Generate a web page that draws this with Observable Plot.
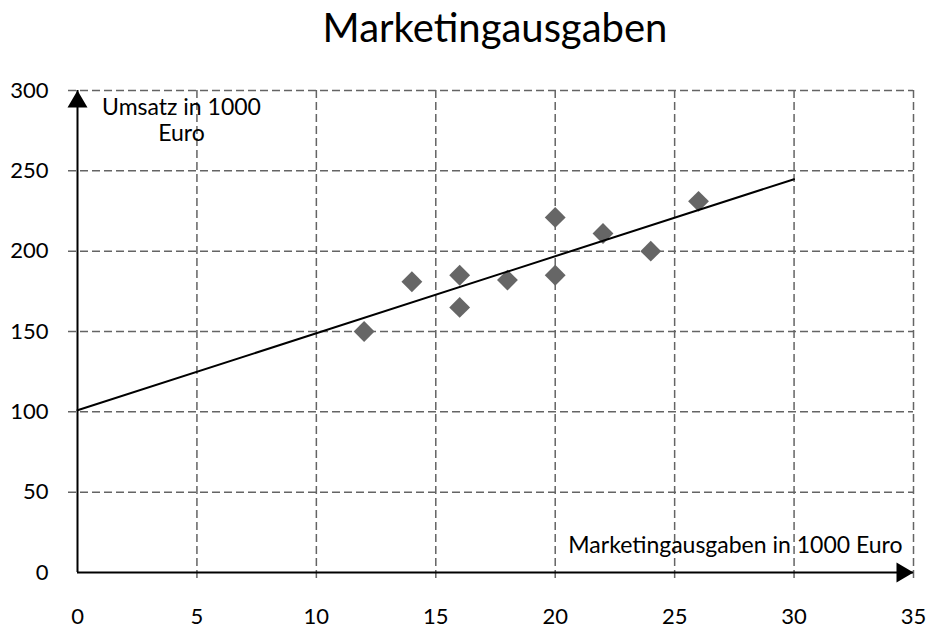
<!DOCTYPE html>
<html><head><meta charset="utf-8">
<script src="https://cdn.jsdelivr.net/npm/d3@7"></script>
<script src="https://cdn.jsdelivr.net/npm/@observablehq/plot@0.6"></script>
<style>
body{margin:0;background:#fff;font-family:Lato, sans-serif;}
#title{height:60px;margin-left:77px;width:836px;text-align:center;font-size:40px;line-height:55px;color:#000;white-space:nowrap;}
</style></head><body>
<div id="title">Marketingausgaben</div>
<div id="chart"></div>
<script>
const ausgaben = [12, 14, 16, 16, 18, 20, 20, 22, 24, 26];
const umsatz = [150, 181, 185, 165, 182, 221, 185, 211, 200, 231];
const xTicks = [0, 5, 10, 15, 20, 25, 30, 35];
const yTicks = [0, 50, 100, 150, 200, 250, 300];
const xDomain = [0, 35];
const yDomain = [0, 300];
const trendX = [0, 30];
const xLabel = "Marketingausgaben in 1000 Euro";
const yLabel = "Umsatz in 1000\nEuro";

const points = ausgaben.map((x, i) => ({x, y: umsatz[i]}));
const mx = d3.mean(ausgaben), my = d3.mean(umsatz);
const sxy = d3.sum(points, d => (d.x - mx) * (d.y - my));
const sxx = d3.sum(points, d => (d.x - mx) ** 2);
const slope = sxy / sxx, intercept = my - slope * mx;
const trend = trendX.map(x => ({x, y: intercept + slope * x}));

const arrowHead = {draw(ctx) { ctx.moveTo(0, 0); ctx.lineTo(10, 17); ctx.lineTo(-10, 17); ctx.closePath(); }};
const gridStyle = {stroke: "#646464", strokeWidth: 1.5, strokeDasharray: "8,4"};

const chart = Plot.plot({
  width: 928,
  height: 568,
  marginTop: 30,
  marginBottom: 56,
  marginLeft: 77,
  marginRight: 15,
  style: {fontFamily: "Lato, sans-serif", fontSize: "22px", color: "#000", background: "#fff"},
  x: {domain: xDomain, label: null},
  y: {domain: yDomain, label: null},
  marks: [
    Plot.ruleX(xTicks.filter(d => d > xDomain[0]), {...gridStyle, insetBottom: -10}),
    Plot.ruleY(yTicks.filter(d => d > yDomain[0]), {...gridStyle, insetLeft: -9}),
    Plot.dot(points, {x: "x", y: "y", symbol: "diamond2", r: 9.4, fill: "#666666", stroke: "none"}),
    Plot.line(trend, {x: "x", y: "y", stroke: "#000", strokeWidth: 2}),
    Plot.ruleX([xDomain[0]], {y1: yDomain[0], y2: yDomain[1], stroke: "#000", strokeWidth: 2}),
    Plot.ruleY([yDomain[0]], {x1: xDomain[0], x2: xDomain[1], stroke: "#000", strokeWidth: 2}),
    Plot.dot([{x: xDomain[0], y: yDomain[1]}], {x: "x", y: "y", symbol: arrowHead, r: 5, fill: "#000", stroke: "none"}),
    Plot.dot([{x: xDomain[1], y: yDomain[0]}], {x: "x", y: "y", symbol: arrowHead, r: 5, rotate: 90, fill: "#000", stroke: "none"}),
    Plot.axisX({ticks: xTicks, tickSize: 0, tickPadding: 36, label: null, fontSize: 22, tickFormat: d => String(d)}),
    Plot.axisY({ticks: yTicks, tickSize: 0, tickPadding: 29, label: null, fontSize: 22, tickFormat: d => String(d)}),
    Plot.text([xLabel], {text: d => d, frameAnchor: "bottom-right", textAnchor: "end", lineAnchor: "middle", dx: -11, dy: -27, fontSize: 23, fill: "#000"}),
    Plot.text([yLabel], {text: d => d, frameAnchor: "top-left", textAnchor: "middle", lineAnchor: "top", dx: 104, dy: 6, lineHeight: 1.12, fontSize: 23, fill: "#000"})
  ]
});
document.getElementById("chart").appendChild(chart);
</script>
</body></html>
